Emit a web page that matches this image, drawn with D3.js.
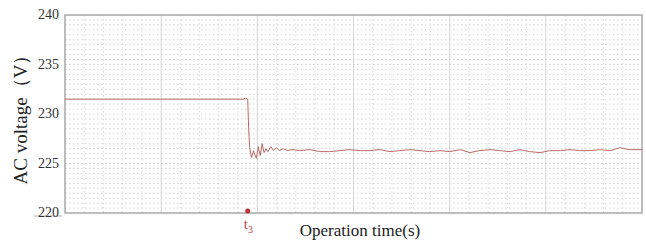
<!DOCTYPE html>
<html>
<head>
<meta charset="utf-8">
<script src="https://cdn.jsdelivr.net/npm/d3@7"></script>
<style>
  body { margin: 0; background: #fff; }
  svg { display: block; font-family: "Liberation Serif", "DejaVu Serif", serif; }
</style>
</head>
<body>
<svg id="chart" width="646" height="244"></svg>
<script>
// Operation time (s, one major division = 1) and AC voltage (V)
var timeS = [0, 1.85, 1.88, 1.90, 1.91, 1.92, 1.94, 1.96, 1.99, 2.01, 2.03, 2.05, 2.07, 2.09,
  2.11, 2.14, 2.17, 2.20, 2.23, 2.27, 2.31, 2.36, 2.44, 2.55, 2.65, 2.75, 2.86, 2.96, 3.07,
  3.17, 3.27, 3.38, 3.48, 3.59, 3.69, 3.79, 3.90, 4.00, 4.11, 4.21, 4.31, 4.42, 4.52, 4.63,
  4.73, 4.83, 4.94, 5.04, 5.15, 5.25, 5.35, 5.46, 5.56, 5.67, 5.77, 5.87, 6.0];
var voltage = [231.5, 231.5, 231.6, 231.5, 228.5, 226.6, 225.6, 226.3, 225.5, 226.7, 225.8,
  227.0, 226.1, 226.5, 226.2, 226.7, 226.3, 226.6, 226.3, 226.5, 226.3, 226.4, 226.3, 226.4,
  226.2, 226.2, 226.3, 226.4, 226.3, 226.3, 226.4, 226.2, 226.3, 226.4, 226.3, 226.2, 226.3,
  226.2, 226.4, 226.1, 226.3, 226.4, 226.3, 226.2, 226.4, 226.2, 226.1, 226.3, 226.3, 226.4,
  226.3, 226.3, 226.4, 226.3, 226.6, 226.4, 226.4];
var yTicks = [220, 225, 230, 235, 240];
var xMajor = [0, 1, 2, 3, 4, 5, 6];
var eventTime = 1.90;   // t3

var svg = d3.select('#chart');
var padL = 65, padR = 642, padT = 15, padB = 213;

var x = d3.scaleLinear().domain([0, 6]).range([padL, padR]);
var y = d3.scaleLinear().domain([220, 240]).range([padB, padT]);

// minor grid, dotted
var g = svg.append('g');
g.selectAll('line.hmin')
    .data(d3.range(220.5, 240, 0.5))
  .enter().append('line')
    .attr('x1', padL).attr('x2', padR)
    .attr('y1', function(d) { return y(d); })
    .attr('y2', function(d) { return y(d); })
    .attr('stroke', '#c8c8c8')
    .attr('stroke-width', 0.8)
    .attr('stroke-dasharray', '1.5,2.5');
g.selectAll('line.vmin')
    .data(d3.range(0.2, 6, 0.2).filter(function(d) { return Math.abs(d - Math.round(d)) > 0.01; }))
  .enter().append('line')
    .attr('x1', function(d) { return x(d); })
    .attr('x2', function(d) { return x(d); })
    .attr('y1', padT).attr('y2', padB)
    .attr('stroke', '#d4d4d4')
    .attr('stroke-width', 0.8)
    .attr('stroke-dasharray', '1.5,2.5');
// major verticals
g.selectAll('line.vmaj')
    .data(xMajor.slice(1, -1))
  .enter().append('line')
    .attr('x1', function(d) { return x(d); })
    .attr('x2', function(d) { return x(d); })
    .attr('y1', padT).attr('y2', padB)
    .attr('stroke', '#d6d6d6')
    .attr('stroke-width', 1);

// frame
svg.append('rect')
    .attr('x', padL).attr('y', padT)
    .attr('width', padR - padL).attr('height', padB - padT)
    .attr('fill', 'none')
    .attr('stroke', '#a8a8a8')
    .attr('stroke-width', 1.5);
svg.append('line')
    .attr('x1', 34).attr('x2', 62)
    .attr('y1', padB + 3).attr('y2', padB + 3)
    .attr('stroke', '#b0b0b0');

// y tick labels
svg.selectAll('text.ytick')
    .data(yTicks)
  .enter().append('text')
    .attr('x', 59)
    .attr('y', function(d) { return y(d) + 4; })
    .attr('text-anchor', 'end')
    .attr('font-size', 14)
    .attr('fill', '#333')
    .text(function(d) { return d; });

// series
var pts = timeS.map(function(t, i) { return [t, voltage[i]]; });
svg.append('path')
    .datum(pts)
    .attr('d', d3.line()
      .x(function(d) { return x(d[0]); })
      .y(function(d) { return y(d[1]); }))
    .attr('fill', 'none')
    .attr('stroke', '#bb6a66')
    .attr('stroke-width', 1);

// t3 marker
svg.append('circle')
    .attr('cx', x(eventTime)).attr('cy', padB - 2)
    .attr('r', 2.5)
    .attr('fill', '#c0303a');
var tl = svg.append('text')
    .attr('x', x(eventTime) - 4).attr('y', 229)
    .attr('font-size', 15)
    .attr('fill', '#c0404a');
tl.append('tspan').text('t');
tl.append('tspan').attr('font-size', 10).attr('dy', 4).text('3');

// axis titles
svg.append('text')
    .attr('x', 360).attr('y', 236)
    .attr('text-anchor', 'middle')
    .attr('font-size', 17)
    .attr('fill', '#222')
    .text('Operation time(s)');
svg.append('text')
    .attr('transform', 'translate(27,' + 115 + ') rotate(-90)')
    .attr('text-anchor', 'middle')
    .attr('font-size', 19)
    .attr('fill', '#222')
    .text('AC voltage（V）');
</script>
</body>
</html>
